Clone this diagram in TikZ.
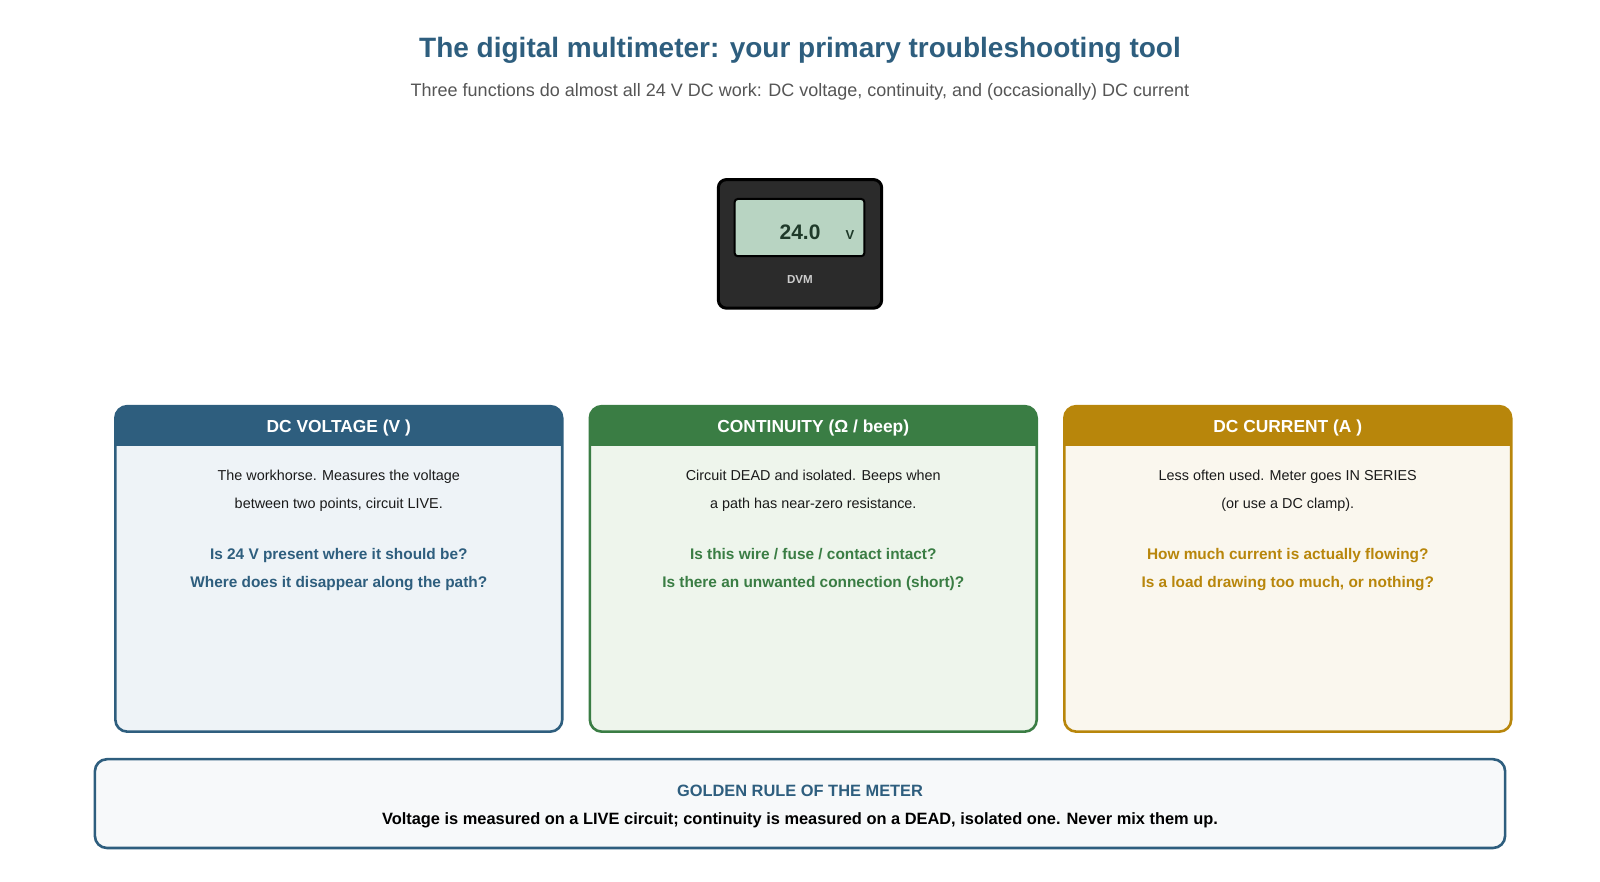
\documentclass[tikz,border=0pt]{standalone}
\usepackage{fontspec}
\setmainfont{Liberation Sans}
\definecolor{cblue}{HTML}{2E5E7E}
\definecolor{cgreen}{HTML}{3A7D44}
\definecolor{cgold}{HTML}{B8860B}
\definecolor{fblue}{HTML}{EEF3F7}
\definecolor{fgreen}{HTML}{EEF5EC}
\definecolor{fgold}{HTML}{FAF7EE}
\definecolor{txt}{HTML}{1A1A1A}
\definecolor{lcd}{HTML}{B8D4C2}
\definecolor{lcdtxt}{HTML}{1F3A2A}
\definecolor{grfill}{HTML}{F7F9FA}
\definecolor{subc}{HTML}{555555}
\begin{document}
\begin{tikzpicture}[x=0.5103pt,y=-0.5103pt,
 body/.style={font=\fontsize{7.2}{13.8}\selectfont,text=txt,align=center},
 q/.style={font=\fontsize{7.7}{13.8}\selectfont\bfseries,align=center},
 hd/.style={font=\fontsize{8.7}{10}\selectfont\bfseries,text=white}]
\useasboundingbox (0,0) rectangle (1568,863.4);
\node (title) at (784,49) {\fontsize{14}{16}\selectfont\bfseries\color{cblue}The digital multimeter: your primary troubleshooting tool};
\node (sub) at (784,90) {\fontsize{9}{10}\selectfont\color{subc}Three functions do almost all 24 V DC work: DC voltage, continuity, and (occasionally) DC current};
% meter
\draw[line width=1.5pt,fill=black!83,draw=black,rounded corners=4pt] (704,176) rectangle (864,302);
\draw[line width=1pt,fill=lcd,draw=black,rounded corners=1.5pt] (720,195) rectangle (847,251);
\node (reading) at (784,228) {\fontsize{10.5}{12}\selectfont\bfseries\color{lcdtxt}24.0};
\node (unit) at (833,230) {\fontsize{6.5}{8}\selectfont\bfseries\color{lcdtxt}V};
\node (dvm) at (784,274) {\fontsize{5.8}{7}\selectfont\bfseries\color{black!20}DVM};
% cards
\foreach \x/\c/\f/\h/\la/\lb/\qa/\qb in {
 113/cblue/fblue/{DC VOLTAGE (V )}/{The workhorse. Measures the voltage}/{between two points, circuit LIVE.}/{Is 24 V present where it should be?}/{Where does it disappear along the path?},
 578/cgreen/fgreen/{CONTINUITY (Ω / beep)}/{Circuit DEAD and isolated. Beeps when}/{a path has near-zero resistance.}/{Is this wire / fuse / contact intact?}/{Is there an unwanted connection (short)?},
 1043/cgold/fgold/{DC CURRENT (A )}/{Less often used. Meter goes IN SERIES}/{(or use a DC clamp).}/{How much current is actually flowing?}/{Is a load drawing too much, or nothing?}}{
 \draw[line width=1.3pt,draw=\c,fill=\f,rounded corners=6pt] (\x,398) rectangle ++(438,319);
 \fill[\c,rounded corners=6pt] (\x,398) rectangle ++(438,39);
 \fill[\c] (\x,420) rectangle ++(438,17);
 \node[hd] (h\x) at (\x+219,419) {\h};
 \node[body] (b\x) at (\x+219,481) {\la\\\lb};
 \node[q,text=\c] (q\x) at (\x+219,558) {\qa\\\qb};
}
% golden rule
\draw[line width=1.3pt,draw=cblue,fill=grfill,rounded corners=6pt] (93,744) rectangle (1475,831);
\node (gr) at (784,775) {\fontsize{8.2}{10}\selectfont\bfseries\color{cblue}GOLDEN RULE OF THE METER};
\node (grt) at (784,804) {\fontsize{8.2}{10}\selectfont\bfseries\color{black}Voltage is measured on a LIVE circuit; continuity is measured on a DEAD, isolated one. Never mix them up.};
\end{tikzpicture}
\end{document}
